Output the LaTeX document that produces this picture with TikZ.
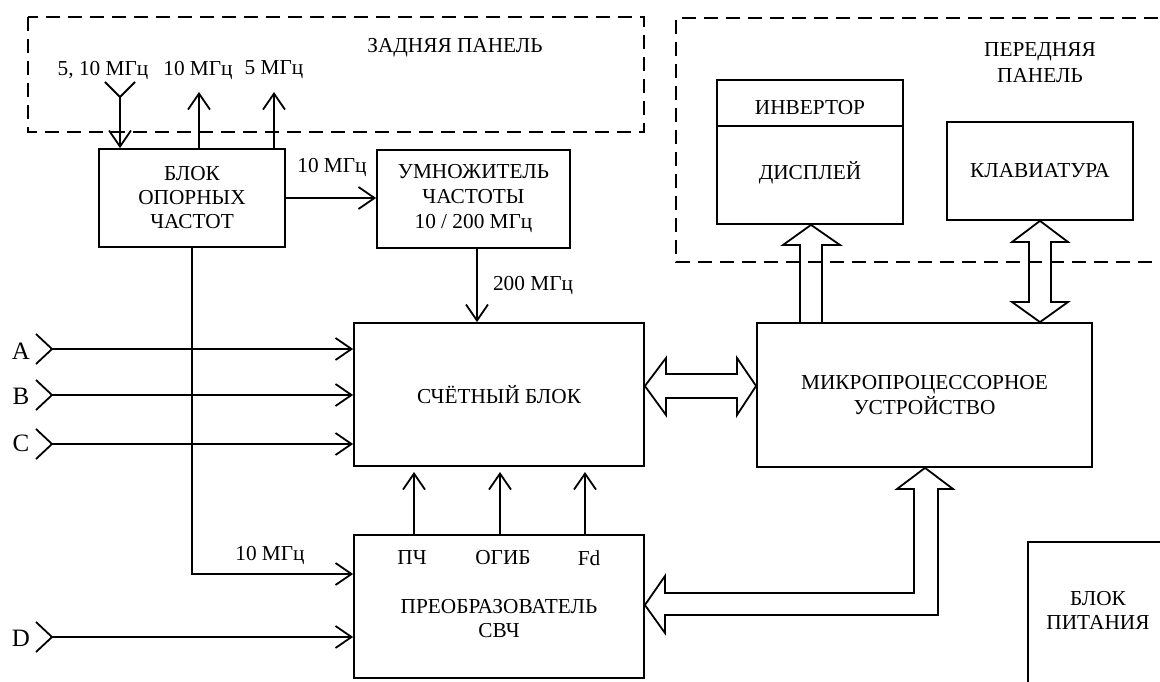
\documentclass[tikz,border=0pt]{standalone}
\usepackage{fontspec}
\setmainfont{Liberation Serif}
\usetikzlibrary{arrows.meta,calc}
\begin{document}
\begin{tikzpicture}[x=1pt,y=-1pt,
  every node/.style={font=\fontsize{21.3}{24}\selectfont, inner sep=0pt, align=center},
  blk/.style={draw, line width=1.8pt},
  conn/.style={line width=1.8pt, -{Straight Barb[length=16pt,width=22pt]}},
  wire/.style={line width=1.8pt},
  fat/.style={line width=1.8pt, line join=miter},
  inlabel/.style={font=\fontsize{25}{28}\selectfont},
  panel/.style={line width=1.8pt, dash pattern=on 14pt off 8pt}]
\clip (0,0) rectangle (1160,682);
\fill[white] (0,0) rectangle (1160,682);
% panels
\draw[panel] (28,17) rectangle (644,132);
\node (rear) at (455,48) {ЗАДНЯЯ ПАНЕЛЬ};
\draw[panel] (1180,18) -- (676,18) -- (676,262) -- (1180,262);
\node[font=\fontsize{21.3}{26}\selectfont] (front) at (1040,63) {ПЕРЕДНЯЯ\\ПАНЕЛЬ};
% blocks
\node[blk, minimum width=186pt, minimum height=98pt] (ref) at (192,198) {БЛОК\\ОПОРНЫХ\\ЧАСТОТ};
\node[blk, minimum width=193pt, minimum height=98pt, font=\fontsize{21.3}{25}\selectfont] (mult) at (473.5,199) {УМНОЖИТЕЛЬ\\ЧАСТОТЫ\\10 / 200 МГц};
\node[blk, minimum width=290pt, minimum height=143pt] (count) at (499,394.5) {СЧЁТНЫЙ БЛОК};
\node[blk, minimum width=290pt, minimum height=143pt] (preob) at (499,606.5) {};
\node (preobT) at (499,619) {ПРЕОБРАЗОВАТЕЛЬ\\СВЧ};
\node (pch) at (412,558) {ПЧ};
\node (ogib) at (503,558) {ОГИБ};
\node (fd) at (589,558) {Fd};
\node[blk, minimum width=335pt, minimum height=144pt, font=\fontsize{21.3}{25}\selectfont] (micro) at (924.5,395) {МИКРОПРОЦЕССОРНОЕ\\УСТРОЙСТВО};
\node[blk, minimum width=186pt, minimum height=144pt] (disp) at (810,152) {};
\draw[wire] (disp.west |- 0,126) -- (disp.east |- 0,126);
\node (inv) at (810,108) {ИНВЕРТОР};
\node (dsp) at (810,173) {ДИСПЛЕЙ};
\node[blk, minimum width=186pt, minimum height=98pt] (kbd) at (1040,171) {КЛАВИАТУРА};
\draw[wire] (1028,700) -- (1028,542) -- (1180,542);
\node (pwr) at (1098,610) {БЛОК\\ПИТАНИЯ};
% rear panel connectors
\node (l510) at (103,70) {5, 10 МГц};
\node (l10) at (198,70) {10 МГц};
\node (l5) at (274,70) {5 МГц};
\coordinate (ant) at (120,97);
\draw[wire] (105,82) -- (ant) -- (135,82);
\draw[conn] (ant) -- (ref.north -| ant);
\coordinate (o10) at (199,92);
\coordinate (o5) at (274,92);
\draw[conn] (ref.north -| o10) -- (o10);
\draw[conn] (ref.north -| o5) -- (o5);
% ref -> mult
\draw[conn] (ref.east) -- (mult.west |- ref.east);
\node (lm) at (332,167) {10 МГц};
% mult -> count
\coordinate (m2) at (477,248);
\draw[conn] (m2) -- (count.north -| m2);
\node (l200) at (533,285) {200 МГц};
% ref -> preob
\draw[conn] (ref.south) -- (ref.south |- 0,574) -- (preob.west |- 0,574);
\node (lp) at (270,555) {10 МГц};
% inputs
\node[inlabel] (inA) at (21,351) {A};
\node[inlabel] (inB) at (21,396) {B};
\node[inlabel] (inC) at (21,443) {C};
\node[inlabel] (inD) at (21,638) {D};
\foreach \yy in {349,395,444,637}{
  \draw[wire] (36,\yy-15) -- (52,\yy) -- (36,\yy+15);
}
\draw[conn] (52,349) -- (count.west |- 0,349);
\draw[conn] (52,395) -- (count.west |- 0,395);
\draw[conn] (52,444) -- (count.west |- 0,444);
\draw[conn] (52,637) -- (preob.west |- 0,637);
% preob -> count
\foreach \xx in {414,500,585}{
  \draw[conn] (preob.north -| \xx,0) -- (\xx,472);
}
% fat arrows
\draw[fat] (count.east |- 0,386) -- (666,358) -- (666,374) -- (737,374) -- (737,358) -- (micro.west |- 0,386) -- (737,415) -- (737,398) -- (666,398) -- (666,415) -- cycle;
\draw[fat] (micro.north -| 800,0) -- (800,245) -- (783,245) -- (disp.south -| 811,0) -- (840,245) -- (822,245) -- (micro.north -| 822,0);
\draw[fat] (kbd.south) -- (1068,242) -- (1051,242) -- (1051,302) -- (1068,302) -- (micro.north -| kbd.south) -- (1012,302) -- (1029,302) -- (1029,242) -- (1012,242) -- cycle;
\draw[fat] (preob.east |- 0,605) -- (665,576) -- (665,593) -- (914,593) -- (914,489) -- (897,489) -- (micro.south -| 925,0) -- (953,489) -- (938,489) -- (938,615) -- (665,615) -- (665,633) -- cycle;
\end{tikzpicture}
\end{document}
